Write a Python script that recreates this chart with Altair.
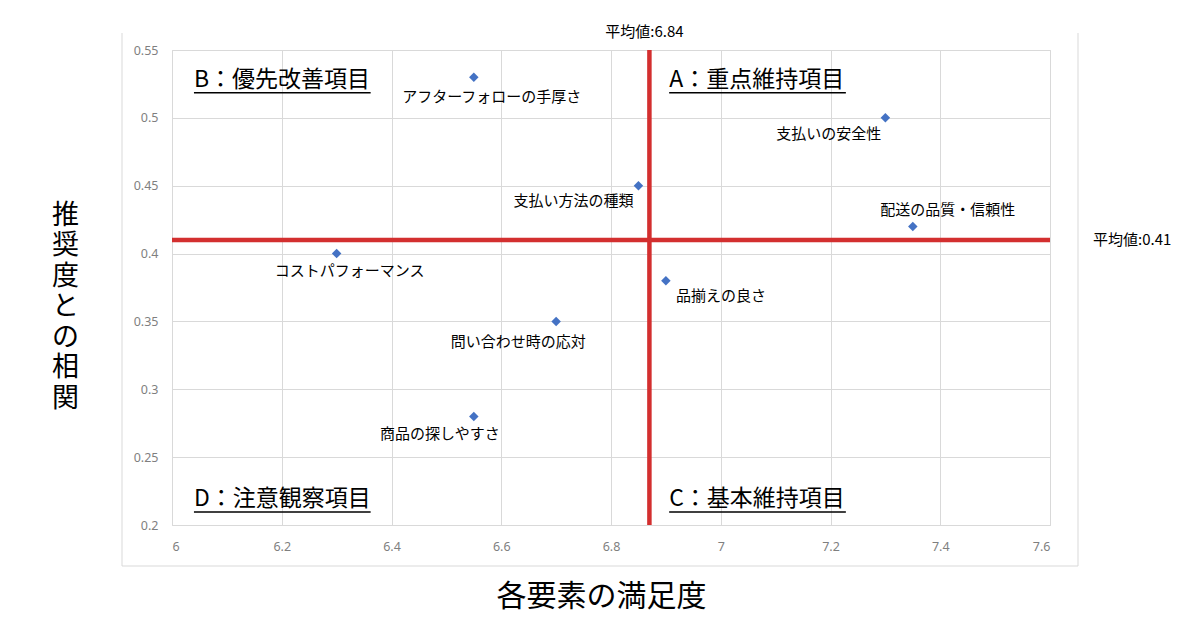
import altair as alt
import pandas as pd

# ---- data ----
items = ["アフターフォローの手厚さ", "支払いの安全性", "支払い方法の種類", "配送の品質・信頼性",
         "コストパフォーマンス", "品揃えの良さ", "問い合わせ時の応対", "商品の探しやすさ"]
satisfaction = [6.55, 7.30, 6.85, 7.35, 6.30, 6.90, 6.70, 6.55]
correlation = [0.53, 0.50, 0.45, 0.42, 0.40, 0.38, 0.35, 0.28]

mean_x = 6.87
mean_x_label = "平均値:6.84"
mean_y = 0.41
mean_y_label = "平均値:0.41"

quad_names = ["B：優先改善項目", "A：重点維持項目", "D：注意観察項目", "C：基本維持項目"]
quad_x = [6.04, 6.906, 6.04, 6.906]
quad_y = [0.528, 0.528, 0.219, 0.219]

x_title = "各要素の満足度"
y_title = ["推", "奨", "度", "と", "の", "相", "関"]

df = pd.DataFrame({"item": items, "sat": satisfaction, "corr": correlation})
qdf = pd.DataFrame({"name": quad_names, "x": quad_x, "y": quad_y})

FONT = "Noto Sans CJK JP"
W, H = 878, 475

xs = alt.Scale(domain=[6, 7.6], nice=False, zero=False)
ys = alt.Scale(domain=[0.2, 0.55], nice=False, zero=False)

base = alt.Chart(df)

points = base.mark_point(shape="diamond", filled=True, size=90, color="#4472C4", opacity=1).encode(
    x=alt.X("sat:Q", scale=xs,
            axis=alt.Axis(values=[6, 6.2, 6.4, 6.6, 6.8, 7, 7.2, 7.4, 7.6], format="~g",
                          title=x_title, titleFont=FONT, titleFontSize=30, titleFontWeight="normal",
                          titleColor="#000000", titleX=429, titleY=71, titleBaseline="middle",
                          titleAlign="center")),
    y=alt.Y("corr:Q", scale=ys,
            axis=alt.Axis(values=[0.2, 0.25, 0.3, 0.35, 0.4, 0.45, 0.5, 0.55], format="~g",
                          title=y_title, titleFont=FONT, titleFontSize=27, titleFontWeight="normal",
                          titleColor="#000000", titleAngle=0, titleX=-107, titleY=152,
                          titleBaseline="top", titleAlign="center", titleLineHeight=30.5)),
)

# per-label placement (style only)
label_style = {
    "アフターフォローの手厚さ": ("center", 18, 20),
    "支払いの安全性": ("right", -4, 16),
    "支払い方法の種類": ("right", -5, 15),
    "配送の品質・信頼性": ("center", 35, -16),
    "コストパフォーマンス": ("center", 13, 17),
    "品揃えの良さ": ("left", 10, 15),
    "問い合わせ時の応対": ("center", -38, 21),
    "商品の探しやすさ": ("center", -34, 18),
}
label_layers = []
for it, (al, dx, dy) in label_style.items():
    label_layers.append(
        base.transform_filter(alt.datum.item == it).mark_text(
            font=FONT, fontSize=15, color="#000000", align=al, baseline="middle", dx=dx, dy=dy
        ).encode(x=alt.X("sat:Q", scale=xs), y=alt.Y("corr:Q", scale=ys), text="item:N")
    )

mean_df = pd.DataFrame({"mx": [mean_x], "my": [mean_y], "lx": [mean_x_label], "ly": [mean_y_label],
                        "top": [0.55], "right": [7.6]})
mbase = alt.Chart(mean_df)
vline = mbase.mark_rule(color="#D32F2F", strokeWidth=4.5).encode(x=alt.X("mx:Q", scale=xs))
hline = mbase.mark_rule(color="#D32F2F", strokeWidth=4.5).encode(y=alt.Y("my:Q", scale=ys))
vlabel = mbase.mark_text(font=FONT, fontSize=15, color="#000000", align="center", baseline="middle",
                         dy=-18, dx=-5).encode(
    x=alt.X("mx:Q", scale=xs), y=alt.Y("top:Q", scale=ys), text="lx:N")
hlabel = mbase.mark_text(font=FONT, fontSize=15, color="#000000", align="left", baseline="middle",
                         dx=43).encode(
    x=alt.X("right:Q", scale=xs), y=alt.Y("my:Q", scale=ys), text="ly:N")

qbase = alt.Chart(qdf)
qtext = qbase.mark_text(font=FONT, fontSize=23, color="#000000", align="left", baseline="middle").encode(
    x=alt.X("x:Q", scale=xs), y=alt.Y("y:Q", scale=ys), text="name:N")
qline = qbase.transform_calculate(x2="datum.x + 0.322", yu="datum.y - 0.0095").mark_rule(
    color="#000000", strokeWidth=1.5).encode(
    x=alt.X("x:Q", scale=xs), x2="x2:Q", y=alt.Y("yu:Q", scale=ys))

# outer frame (decorative)
frame_col = "#d9d9d9"
fl = mbase.mark_rule(color=frame_col, strokeWidth=1).encode(
    x=alt.value(-50), y=alt.value(-17), y2=alt.value(516))
fr = mbase.mark_rule(color=frame_col, strokeWidth=1).encode(
    x=alt.value(906), y=alt.value(-17), y2=alt.value(516))
fb = mbase.mark_rule(color=frame_col, strokeWidth=1).encode(
    x=alt.value(-50), x2=alt.value(906), y=alt.value(516))

chart = alt.layer(
    fl, fr, fb, vline, hline, points, *label_layers, vlabel, hlabel, qtext, qline
).properties(
    width=W, height=H,
    autosize=alt.AutoSizeParams(type="none"),
    padding={"left": 164, "top": 42, "right": 142, "bottom": 97},
).configure_view(
    stroke="#d9d9d9", strokeWidth=1
).configure_axis(
    grid=True, gridColor="#d9d9d9", gridWidth=1, domain=False, ticks=False,
    labelFont="Noto Sans", labelFontSize=12.5, labelColor="#7f7f7f",
).configure_axisY(
    labelPadding=14
).configure_axisX(
    labelPadding=15
)

chart.save("out.html", embed_options={"renderer": "svg", "actions": False})
